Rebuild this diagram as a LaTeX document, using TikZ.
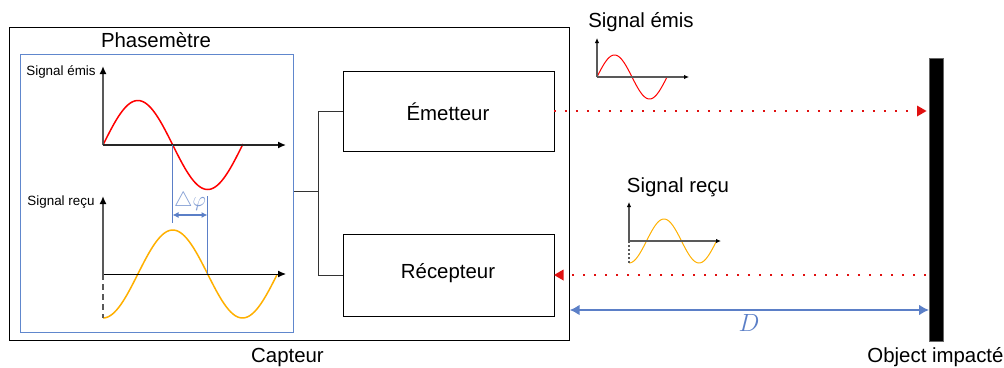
\documentclass[tikz,border=0pt]{standalone}
\usepackage{fontspec}
\setmainfont{Liberation Sans}
\usetikzlibrary{arrows.meta}
\definecolor{phblue}{HTML}{4472C4}
\definecolor{dblue}{HTML}{5B7FC7}
\definecolor{lblue}{HTML}{7F9BD3}
\definecolor{sigred}{HTML}{FF0000}
\definecolor{ptred}{HTML}{E01010}
\definecolor{sigyel}{HTML}{FFB000}
\definecolor{axgray}{HTML}{595959}
\tikzset{
  x=1pt,y=-1pt,
  txtl/.style={font=\fontsize{20.4}{22}\selectfont,inner sep=0pt},
  txts/.style={font=\fontsize{13.4}{15}\selectfont,inner sep=0pt},
  boxk/.style={draw=black,line width=1.1pt,fill=white,inner sep=0pt,anchor=north west},
  boxb/.style={draw=phblue!85,line width=1.2pt,inner sep=0pt,anchor=north west},
  wire/.style={draw=black!80,line width=1pt},
  axisbig/.style={line width=1.6pt,-{Latex[length=8pt,width=7pt,color=black]}},
  axissmall/.style={line width=1.3pt,-{Latex[length=5pt,width=4.5pt,color=black]}},
  wavebig/.style={line width=1.5pt,smooth,samples=80},
  wavesmall/.style={line width=1pt,smooth,samples=80},
  ray/.style={ptred,line width=2.2pt,dash pattern=on 2.4pt off 8.6pt},
  tipred/.style={fill=ptred,draw=none},
  measure/.style={dblue,line width=1.1pt},
}
\begin{document}
\begin{tikzpicture}
\useasboundingbox (0,0) rectangle (1004,367);
% main boxes
\node[boxk,minimum width=560pt,minimum height=313pt] (capteur) at (8.6,26.6) {};
\node[boxb,minimum width=273pt,minimum height=278pt] (phase) at (19.6,53.6) {};
\node[boxk,minimum width=211pt,minimum height=80pt] (em) at (342.6,70.6) {};
\node[boxk,minimum width=211pt,minimum height=82pt] (rec) at (342.6,233.6) {};
\node[anchor=north west,fill=black,draw=black!60,line width=0.5pt,minimum width=14pt,minimum height=283pt,inner sep=0pt] (obj) at (929,58) {};
\node[txtl] at (448,111.5) {Émetteur};
\node[txtl] at (448,273.5) {Récepteur};
\node[txtl] (tcap) at (287.5,357) {Capteur};
\node[txtl] (tobj) at (935.5,357) {Object impacté};
\node[txtl] (tph) at (156,40) {Phasemètre};
\node[txts] (tse) at (61,72) {Signal émis};
\node[txts] (tsr) at (61,202.5) {Signal reçu};
\node[txtl] (tse2) at (641,22) {Signal émis};
\node[txtl] (tsr2) at (678,187) {Signal reçu};
% bus
\coordinate (junc) at (318,191);
\draw[wire] (phase.east |- junc) -- (junc);
\draw[wire] (em.west) -| (junc);
\draw[wire] (rec.west) -| (junc);
% big plots
\coordinate (o1) at (103,145);
\coordinate (o1y) at (103,66);
\coordinate (o1x) at (286,145);
\coordinate (o2) at (103,274);
\coordinate (o2y) at (103,196);
\coordinate (o2x) at (286,274);
\coordinate (o2d) at (103,318);
\draw[sigred,wavebig] plot[domain=0:140] ({103+\x},{145-44.5*sin(\x/139.5*360)});
\draw[sigyel,wavebig] plot[domain=0:174] ({103+\x},{274+44*cos(\x/139.5*360)});
\draw[axisbig,axgray] (o1) -- (o1y);
\draw[axisbig,black!85,line width=1.4pt] (o1) -- (o1x);
\draw[axisbig,axgray] (o2) -- (o2y);
\draw[axisbig,black,line width=1pt] (o2) -- (o2x);
\draw[axgray,line width=1.4pt,dash pattern=on 6pt off 4pt] (o2) -- (o2d);
% phase shift
\coordinate (p1a) at (172.5,145);
\coordinate (p1b) at (172.5,223);
\coordinate (p2a) at (207.5,196);
\coordinate (p2b) at (207.5,274);
\coordinate (m1) at (172.5,215);
\coordinate (m2) at (207.5,215);
\draw[measure] (p1a) -- (p1b);
\draw[measure] (p2a) -- (p2b);
\draw[measure,line width=1.3pt,{Latex[length=6pt,width=6pt]}-{Latex[length=6pt,width=6pt]}] (m1) -- (m2);
\node[inner sep=0pt,text=lblue,font=\fontsize{22.5}{24}\selectfont] (dphi) at (190,201) {$\triangle\varphi$};
% small plots
\coordinate (s1) at (597,77);
\coordinate (s1y) at (597,38);
\coordinate (s1x) at (689,77);
\coordinate (s2) at (629,241);
\coordinate (s2y) at (629,202);
\coordinate (s2x) at (721,241);
\coordinate (s2d) at (629,263);
\draw[sigred,wavesmall] plot[domain=0:70] ({597+\x},{77-22*sin(\x/70*360)});
\draw[sigyel,wavesmall] plot[domain=0:87.5] ({629+\x},{241+22*cos(\x/70*360)});
\draw[axissmall,axgray] (s1) -- (s1y);
\draw[axissmall,axgray] (s1) -- (s1x);
\draw[axissmall,axgray] (s2) -- (s2y);
\draw[axissmall,axgray] (s2) -- (s2x);
\draw[axgray,line width=1.1pt,dash pattern=on 2pt off 2pt] (s2) -- (s2d);
% rays
\coordinate (r1) at (553.8,111);
\coordinate (r1e) at (910,111);
\coordinate (r2) at (926.2,275);
\coordinate (r2e) at (570,275);
\draw[ray] (r1) -- (r1e);
\draw[ray] (r2) -- (r2e);
\fill[tipred] (917,105.5) -- (926.5,111) -- (917,116.5) -- cycle;
\fill[tipred] (563.5,269.5) -- (554,275) -- (563.5,280.5) -- cycle;
% distance
\draw[dblue,line width=2.4pt,{Latex[length=10pt,width=11pt]}-{Latex[length=10pt,width=11pt]}] (capteur.east |- 0,310) -- (obj.west |- 0,310);
\node[inner sep=0pt,text=dblue,font=\fontsize{26}{28}\selectfont] (dlab) at (749,323) {$D$};
\end{tikzpicture}
\end{document}
